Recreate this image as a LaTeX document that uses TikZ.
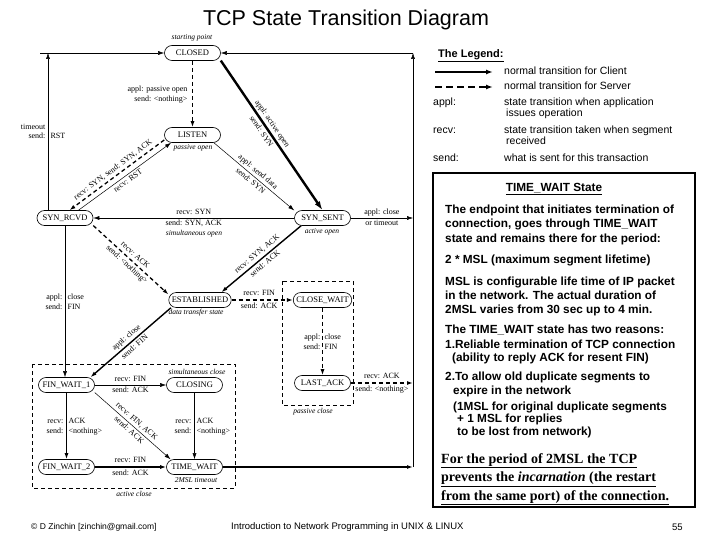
\documentclass[tikz,border=0pt]{standalone}
\usepackage{fontspec}
\setmainfont{Liberation Serif}
\setsansfont{Liberation Sans}
\usetikzlibrary{arrows.meta,calc}
\begin{document}
\begin{tikzpicture}[x=1pt,y=-1pt,
  stn/.style={draw, line width=0.6pt, rounded corners=7.5pt, minimum width=56pt, minimum height=15pt, inner xsep=3pt, inner ysep=0pt, font=\fontsize{8.5}{9}\selectfont},
  lbl/.style={font=\fontsize{8}{9}\selectfont, inner sep=0.4pt, text height=5.6pt, text depth=1.6pt},
  el/.style={font=\fontsize{8}{9}\selectfont, inner sep=2pt, text height=5.6pt, text depth=1.6pt},
  itl/.style={font=\fontsize{7.5}{8}\selectfont\itshape, inner sep=0.5pt},
  arr/.style={-{Latex[length=6pt,width=4pt]}},
  thinE/.style={arr, line width=0.5pt},
  cli/.style={arr, line width=1.4pt},
  srv/.style={arr, line width=1.3pt, dash pattern=on 4pt off 3pt},
  dbox/.style={line width=0.6pt, dash pattern=on 4pt off 3pt},
  lg/.style={font=\sffamily\fontsize{10.5}{12}\selectfont, inner sep=0pt, anchor=west, text height=7.6pt, text depth=2pt},
  tw/.style={font=\sffamily\bfseries\fontsize{11.8}{13}\selectfont, inner sep=0pt, anchor=west, text height=8.6pt, text depth=2.4pt},
  fp/.style={font=\bfseries\fontsize{14}{16}\selectfont, inner sep=0pt, anchor=west, text height=9.6pt, text depth=3pt},
  ft/.style={font=\sffamily\fontsize{9.5}{11}\selectfont, inner sep=0pt, anchor=west},
]
\fill[white] (0,0) rectangle (720,540);
\useasboundingbox (0,0) rectangle (720,540);

% title
\node[font=\sffamily\fontsize{21.5}{24}\selectfont, inner sep=0pt] (title) at (346,20) {TCP State Transition Diagram};

% states
\node[stn] (CLOSED) at (192.5,53) {CLOSED};
\node[stn] (LISTEN) at (192.5,135) {LISTEN};
\node[stn] (SYNRCVD) at (65,218) {SYN\_RCVD};
\node[stn] (SYNSENT) at (322.5,218) {SYN\_SENT};
\node[stn] (EST) at (200,300) {ESTABLISHED};
\node[stn] (CW) at (322.5,300) {CLOSE\_WAIT};
\node[stn] (LA) at (322.5,383) {LAST\_ACK};
\node[stn] (FW1) at (66.5,385) {FIN\_WAIT\_1};
\node[stn] (CLOSING) at (194.5,385) {CLOSING};
\node[stn] (FW2) at (66.5,467) {FIN\_WAIT\_2};
\node[stn] (TW) at (194.5,467) {TIME\_WAIT};

% frame coordinates
\coordinate (L0) at (40,53);
\coordinate (L1) at (48,53);
\coordinate (R1) at (413,53);
\coordinate (R2) at (413,218);
\coordinate (R3) at (413,383);
\coordinate (R4) at (413,467);

% dashed boxes
\draw[dbox] (32,364) rectangle (235,488);
\draw[dbox] (282,281) rectangle (353,405);

% frame lines
\draw[thinE] (L1 |- SYNRCVD.north) -- (L1);
\draw[thinE] (L0) -- (CLOSED.west);
\draw[thinE] (R4) -- (R1);
\draw[thinE] (R1) -- (CLOSED.east);
\node[lbl, anchor=base east] (to1) at (46,130) {timeout};
\node[lbl, anchor=base east] (to2) at (46,139) {send:};
\node[lbl, anchor=base west] (to3) at (50,139) {RST};

% CLOSED -> LISTEN
\draw[srv] (CLOSED.south) -- (LISTEN.north);
\node[lbl, anchor=base east] (po1) at (188,92) {appl: passive open};
\node[lbl, anchor=base east] (po2) at (188,101.5) {send: <nothing>};

% CLOSED -> SYN_SENT
\draw[-{Latex[length=9pt,width=6pt]}, line width=2.4pt] (CLOSED.-15) -- (SYNSENT.north)
  node[el, sloped, above, pos=0.45] (ao1) {appl: active open}
  node[el, sloped, below, pos=0.45] (ao2) {send: SYN};

% LISTEN -> SYN_RCVD
\draw[srv] (LISTEN.190) -- (SYNRCVD.60)
  node[el, sloped, above, pos=0.5] (ls1) {recv: SYN, send: SYN, ACK};
% SYN_RCVD -> LISTEN
\draw[thinE] (SYNRCVD.30) -- (LISTEN.200)
  node[el, sloped, below, pos=0.5] (rst1) {recv: RST};
% LISTEN -> SYN_SENT
\draw[thinE] (LISTEN.-20) -- (SYNSENT.165)
  node[el, sloped, above, pos=0.5] (sd1) {appl: send data}
  node[el, sloped, below, pos=0.5] (sd2) {send: SYN};
% SYN_SENT -> SYN_RCVD
\draw[thinE] (SYNSENT.west) -- (SYNRCVD.east)
  node[el, above, pos=0.5] (so1) {recv: SYN}
  node[el, below, pos=0.5] (so2) {send: SYN, ACK};
\node[itl] (so3) at (194,233.5) {simultaneous open};
% SYN_SENT -> CLOSED (right)
\draw[thinE] (SYNSENT.east) -- (R2)
  node[el, above, pos=0.5] (ct1) {appl: close}
  node[el, below, pos=0.5] (ct2) {or timeout};
% SYN_RCVD -> ESTABLISHED
\draw[srv] (SYNRCVD.-15) -- (EST.170)
  node[el, sloped, above, pos=0.5] (ra1) {recv: ACK}
  node[el, sloped, below, pos=0.5] (ra2) {send: <nothing>};
% SYN_SENT -> ESTABLISHED
\draw[cli] (SYNSENT.200) -- (EST.20)
  node[el, sloped, above, pos=0.5] (sa1) {recv: SYN, ACK}
  node[el, sloped, below, pos=0.5] (sa2) {send: ACK};
% ESTABLISHED -> CLOSE_WAIT
\draw[srv] (EST.east) -- (CW.west)
  node[el, above, pos=0.45] (rf1) {recv: FIN}
  node[el, below, pos=0.45] (rf2) {send: ACK};
% CLOSE_WAIT -> LAST_ACK
\draw[srv] (CW.south) -- (LA.north);
\node[lbl, anchor=base east] (cw1) at (321,339.5) {appl:};
\node[lbl, anchor=base west] (cw2) at (324,339.5) {close};
\node[lbl, anchor=base east] (cw3) at (321,349) {send:};
\node[lbl, anchor=base west] (cw4) at (324,349) {FIN};
% LAST_ACK -> CLOSED
\draw[srv] (LA.east) -- (R3)
  node[el, above, pos=0.5] (lk1) {recv: ACK}
  node[el, below, pos=0.5] (lk2) {send: <nothing>};
% SYN_RCVD -> FIN_WAIT_1
\draw[thinE] (SYNRCVD.south) -- (SYNRCVD.south |- FW1.north);
\node[lbl, anchor=base east] (sc1) at (63,299.5) {appl:};
\node[lbl, anchor=base west] (sc2) at (67,299.5) {close};
\node[lbl, anchor=base east] (sc3) at (63,309) {send:};
\node[lbl, anchor=base west] (sc4) at (67,309) {FIN};
% ESTABLISHED -> FIN_WAIT_1
\draw[cli] (EST.195) -- (FW1.18)
  node[el, sloped, above, pos=0.5] (ec1) {appl: close}
  node[el, sloped, below, pos=0.5] (ec2) {send: FIN};
% FIN_WAIT_1 -> CLOSING
\draw[thinE] (FW1.east) -- (CLOSING.west)
  node[el, above, pos=0.5] (fc1) {recv: FIN}
  node[el, below, pos=0.5] (fc2) {send: ACK};
% FIN_WAIT_1 -> TIME_WAIT
\draw[thinE] (FW1.-15) -- (TW.162)
  node[el, sloped, above, pos=0.5] (ft1) {recv: FIN, ACK}
  node[el, sloped, below, pos=0.5] (ft2) {send: ACK};
% FIN_WAIT_1 -> FIN_WAIT_2
\draw[cli] (FW1.south) -- (FW2.north);
\node[lbl, anchor=base east] (f21) at (64,423.5) {recv:};
\node[lbl, anchor=base west] (f22) at (68,423.5) {ACK};
\node[lbl, anchor=base east] (f23) at (64,433) {send:};
\node[lbl, anchor=base west] (f24) at (68,433) {<nothing>};
% CLOSING -> TIME_WAIT
\draw[thinE] (CLOSING.south) -- (TW.north);
\node[lbl, anchor=base east] (ct3) at (192,423.5) {recv:};
\node[lbl, anchor=base west] (ct4) at (196,423.5) {ACK};
\node[lbl, anchor=base east] (ct5) at (192,433) {send:};
\node[lbl, anchor=base west] (ct6) at (196,433) {<nothing>};
% FIN_WAIT_2 -> TIME_WAIT
\draw[cli] (FW2.east) -- (TW.west)
  node[el, above, pos=0.5] (w21) {recv: FIN}
  node[el, below, pos=0.5] (w22) {send: ACK};
% TIME_WAIT -> CLOSED
\draw[cli] (TW.east) -- (R4);

% italic notes
\node[itl] (n1) at (192,38) {starting point};
\node[itl] (n2) at (193,148) {passive open};
\node[itl] (n3) at (322,232) {active open};
\node[itl] (n4) at (196,313) {data transfer state};
\node[itl] (n5) at (313,412) {passive close};
\node[itl] (n6) at (197,372) {simultaneous close};
\node[itl] (n7) at (196,480) {2MSL timeout};
\node[itl] (n8) at (134,494) {active close};

% legend
\node[lg, font=\sffamily\bfseries\fontsize{11}{12}\selectfont] (lgT) at (438,55) {\underline{The Legend:}};
\coordinate (la1) at (435,72);
\coordinate (la2) at (493,72);
\coordinate (lb1) at (435,87);
\coordinate (lb2) at (493,87);
\draw[-{Latex[length=7pt,width=5pt]}, line width=1.5pt] (la1) -- (la2);
\draw[-{Latex[length=7pt,width=5pt]}, line width=1.5pt, dash pattern=on 7pt off 4pt] (lb1) -- (lb2);
\node[lg] (lg1) at (504,72) {normal transition for Client};
\node[lg] (lg2) at (504,87) {normal transition for Server};
\node[lg] (lg3) at (433,103) {appl:};
\node[lg] (lg4) at (504,103) {state transition when application};
\node[lg] (lg5) at (506,114) {issues operation};
\node[lg] (lg6) at (433,131) {recv:};
\node[lg] (lg7) at (504,131) {state transition taken when segment};
\node[lg] (lg8) at (506,142) {received};
\node[lg] (lg9) at (433,159) {send:};
\node[lg] (lg10) at (504,159) {what is sent for this transaction};

% TIME_WAIT box
\draw[line width=2pt] (433,173) rectangle (695,507);
\node[tw, anchor=center] (t0) at (554,188) {\underline{TIME\_WAIT State}};
\node[tw] (t1) at (445,210) {The endpoint that initiates termination of};
\node[tw] (t2) at (445,224) {connection, goes through TIME\_WAIT};
\node[tw] (t3) at (445,239) {state and remains there for the period:};
\node[tw] (t4) at (445,260) {2 * MSL (maximum segment lifetime)};
\node[tw] (t5) at (445,282) {MSL is configurable life time of IP packet};
\node[tw] (t6) at (445,296) {in the network. The actual duration of};
\node[tw] (t7) at (445,310) {2MSL varies from 30 sec up to 4 min.};
\node[tw] (t8) at (445,330) {The TIME\_WAIT state has two reasons:};
\node[tw] (t9) at (445,345) {1.Reliable termination of TCP connection};
\node[tw] (t10) at (452,358) {(ability to reply ACK for resent FIN)};
\node[tw] (t11) at (445,377) {2.To allow old duplicate segments to};
\node[tw] (t12) at (453,391) {expire in the network};
\node[tw] (t13) at (453,407) {(1MSL for original duplicate segments};
\node[tw] (t14) at (457,419.5) {+ 1 MSL for replies};
\node[tw] (t15) at (457,432) {to be lost from network)};
\node[fp] (p1) at (441,460) {\underline{For the period of 2MSL the TCP}};
\node[fp] (p2) at (441,478.5) {\underline{prevents the \textit{incarnation} (the restart}};
\node[fp] (p3) at (441,497) {\underline{from the same port) of the connection.}};

% footer
\node[ft, font=\sffamily\fontsize{8.5}{10}\selectfont] (f1) at (31,527) {© D Zinchin [zinchin@gmail.com]};
\node[ft] (f2) at (231,527) {Introduction to Network Programming in UNIX \& LINUX};
\node[ft] (f3) at (672,527) {55};
\end{tikzpicture}
\end{document}
